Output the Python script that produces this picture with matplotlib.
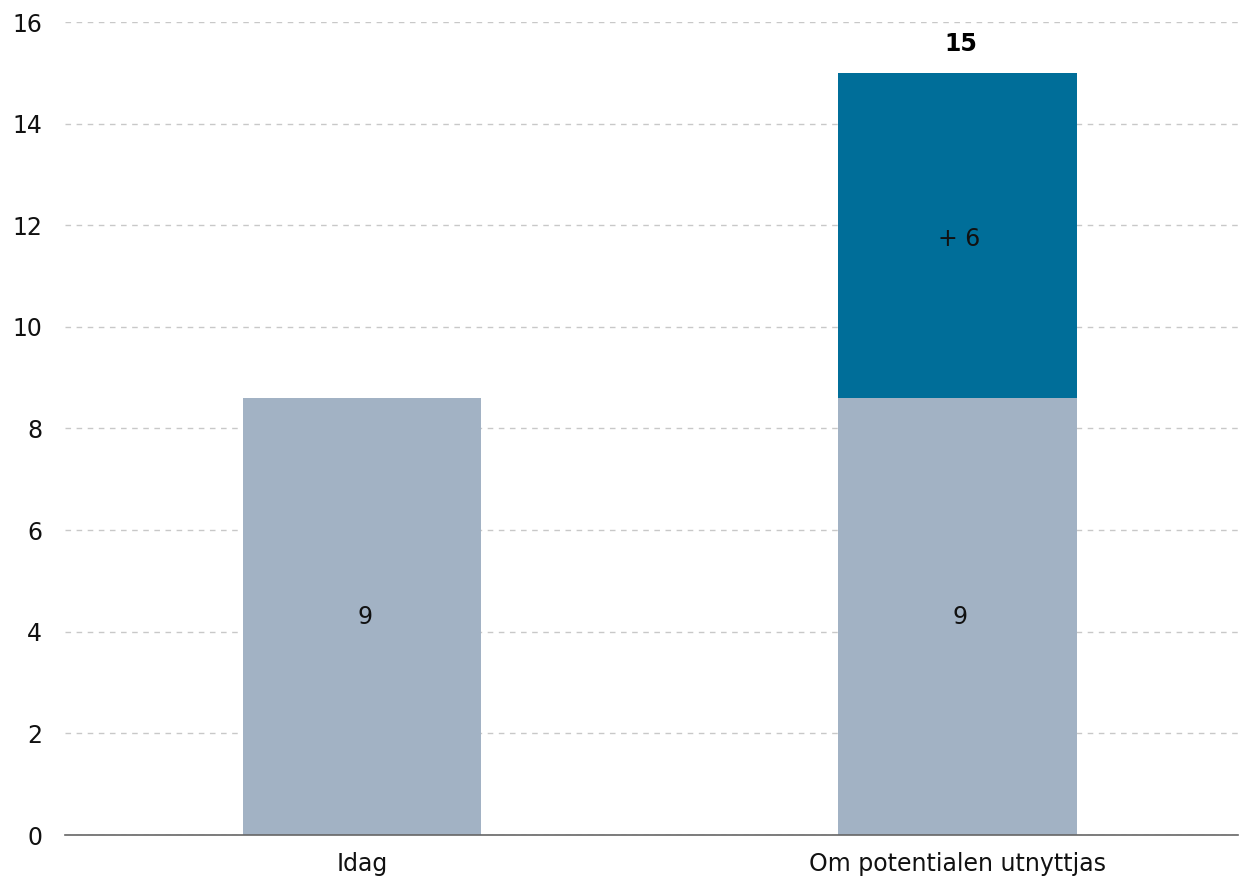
import matplotlib
matplotlib.use("Agg")
import matplotlib.pyplot as plt

categories = ["Idag", "Om potentialen utnyttjas"]
base_values = [8.6, 8.6]
added_values = [0.0, 6.4]
base_labels = ["9", "9"]
added_labels = ["", "+ 6"]
total_labels = ["", "15"]
yticks = [0, 2, 4, 6, 8, 10, 12, 14, 16]

plt.rcParams['font.family'] = ['DejaVu Sans']
fig = plt.figure(figsize=(12.4, 8.8), dpi=100)
ax = fig.add_axes([65/1240, 1-835/880, (1238-65)/1240, (835-22)/880])

x = list(range(len(categories)))
ax.bar(x, base_values, width=0.4, color="#A2B2C4", zorder=2)
ax.bar(x, added_values, bottom=base_values, width=0.4, color="#006E99", zorder=2)

fs = 17
for i in x:
    ax.text(i + 0.005, base_values[i] / 2, base_labels[i], ha="center", va="center", fontsize=fs, color="#111111", zorder=3)
    if added_values[i] > 0:
        ax.text(i + 0.002, base_values[i] + added_values[i] / 2 - 0.07, added_labels[i], ha="center", va="center", fontsize=fs, color="#111111", zorder=3)
        total = base_values[i] + added_values[i]
        ax.text(i + 0.005, total + 0.34, total_labels[i], ha="center", va="bottom", fontsize=fs, fontweight="bold", color="#000000", zorder=3)

ax.set_xlim(-0.5, (1238 - 362.5) / 595)
ax.set_ylim(0, 16)
ax.set_yticks(yticks)
ax.set_yticklabels([str(t) for t in yticks])
ax.set_xticks(x)
ax.set_xticklabels(categories)
ax.tick_params(axis="both", length=0, labelsize=fs, colors="#111111")
ax.tick_params(axis="y", pad=16.5)
ax.tick_params(axis="x", pad=12)
ax.grid(axis="y", linestyle=(0, (4, 4)), color="#C8C8C8", linewidth=1, zorder=1)
for s in ["top", "right", "left"]:
    ax.spines[s].set_visible(False)
ax.spines["bottom"].set_color("#666666")
ax.spines["bottom"].set_linewidth(1.2)
ax.spines["bottom"].set_zorder(4)

fig.savefig("out.png", dpi=100)
